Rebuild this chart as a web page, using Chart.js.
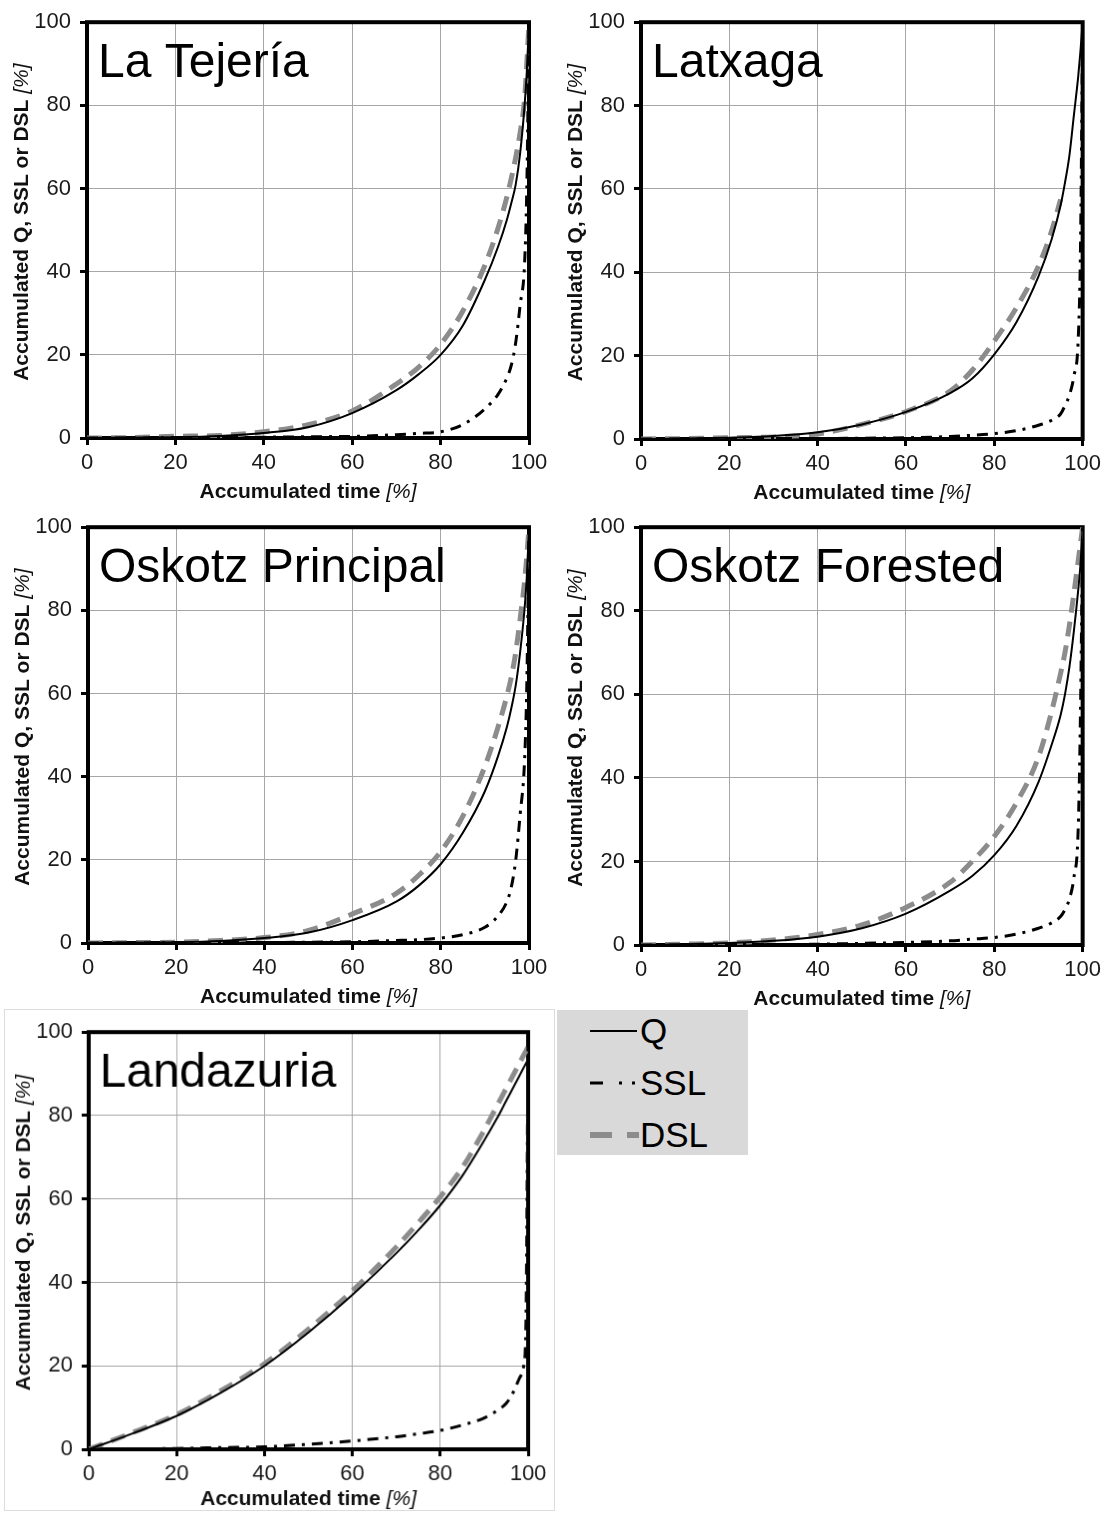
<!DOCTYPE html>
<html>
<head>
<meta charset="utf-8">
<title>Accumulated Q, SSL and DSL curves</title>
<script src="https://cdn.jsdelivr.net/npm/chart.js@4.4.1/dist/chart.umd.min.js"></script>
<style>
  body { margin: 0; background: #fff; width: 1106px; height: 1515px; position: relative; overflow: hidden;
         font-family: "Liberation Sans", Arial, sans-serif; }
  canvas { position: absolute; }
  #c5 { border: 1px solid #dcdcdc; }
  #legend { position: absolute; left: 557px; top: 1010px; width: 191px; height: 145px; background: #d9d9d9; }
  .lg-row { position: absolute; left: 0; height: 40px; width: 191px; }
  .lg-row svg { position: absolute; left: 30px; top: 0; }
  .lg-row span { position: absolute; left: 83px; top: 0; font-size: 35px; line-height: 40px; color: #000; }
</style>
</head>
<body>
<canvas id="c1" width="556" height="505" style="left:0;top:0"></canvas>
<canvas id="c2" width="550" height="505" style="left:556px;top:0"></canvas>
<canvas id="c3" width="556" height="505" style="left:0;top:505px"></canvas>
<canvas id="c4" width="550" height="505" style="left:556px;top:505px"></canvas>
<canvas id="c5" width="551" height="502" style="left:4px;top:1009px"></canvas>

<div id="legend">
  <div class="lg-row" style="top:1px">
    <svg width="52" height="40"><line x1="3" y1="20" x2="50" y2="20" stroke="#000" stroke-width="2"/></svg>
    <span>Q</span>
  </div>
  <div class="lg-row" style="top:53px">
    <svg width="52" height="40"><line x1="3" y1="20" x2="50" y2="20" stroke="#000" stroke-width="3" stroke-dasharray="13 16 3 10 3 20"/></svg>
    <span>SSL</span>
  </div>
  <div class="lg-row" style="top:105px">
    <svg width="52" height="40"><line x1="3" y1="20" x2="52" y2="20" stroke="#8c8c8c" stroke-width="6" stroke-dasharray="22 15"/></svg>
    <span>DSL</span>
  </div>
</div>

<script>
// ---- data ----
var timeSteps = [0, 10, 20, 30, 40, 50, 60, 70, 75, 80, 85, 90, 93, 95, 96, 97, 98, 99, 99.5, 100];
var axisTicks = [0, 20, 40, 60, 80, 100];

var tejeriaQ   = [0, 0.1, 0.2, 0.5, 1.2, 2.6, 6, 11.5, 15.3, 20, 27, 38, 46, 52.5, 56.5, 61, 68.5, 80, 88, 100];
var tejeriaSSL = [0, 0, 0.1, 0.1, 0.2, 0.3, 0.4, 0.8, 1.1, 1.5, 3.2, 7, 10.5, 14.5, 17.5, 23, 32, 42, 60, 100];
var tejeriaDSL = [0, 0.1, 0.4, 0.6, 1.5, 3.2, 6.5, 13, 17, 22.5, 30.5, 41.5, 50.5, 58, 62.5, 67.5, 73.5, 81.5, 90, 100];

var latxagaQ   = [0, 0.1, 0.3, 0.7, 1.6, 3.5, 6.5, 11, 14.5, 20.3, 28, 39, 48, 56, 61.5, 68, 77.5, 87, 93, 100];
var latxagaSSL = [0, 0, 0.1, 0.1, 0.1, 0.2, 0.3, 0.6, 0.9, 1.3, 2, 3.3, 4.5, 6, 8, 10.5, 15, 24, 45, 100];
var latxagaDSL = [0, 0.1, 0.3, 0.5, 1.2, 3.5, 6.6, 11.5, 16.5, 23.5, 31.5, 41.5, 50, 57.5, null, null, null, null, null, null];

var principalQ   = [0, 0.1, 0.2, 0.5, 1.2, 2.5, 5.5, 10, 13.8, 19, 26.5, 36.5, 45, 52, 56.5, 62, 70, 80.5, 88, 100];
var principalSSL = [0, 0, 0.1, 0.1, 0.1, 0.2, 0.3, 0.6, 0.8, 1.2, 2, 3.8, 6.5, 10, 13.5, 20, 31, 44, 62, 100];
var principalDSL = [0, 0.1, 0.2, 0.6, 1.3, 3, 7, 12, 16.3, 22, 30.5, 42.5, 52, 59.5, 64, 70, 78, 87, 93, 100];

var forestedQ   = [0, 0.2, 0.5, 1, 2, 4, 7.5, 13, 16.5, 21.5, 28.5, 39, 48, 55, 60, 66.5, 75, 85, 91, 100];
var forestedSSL = [0, 0, 0.1, 0.1, 0.2, 0.4, 0.6, 1, 1.4, 1.8, 2.6, 4, 5.3, 6.8, 8.5, 11, 16, 28, 55, 100];
var forestedDSL = [0, 0.2, 0.5, 1.2, 2.5, 4.8, 9, 15, 20, 26, 34, 45, 56, 65, 70, 76.5, 84, 92, 96, 100];

var landazuriaQ   = [0, 3.8, 8, 13.5, 20, 28, 37, 47, 52.5, 58.5, 65.5, 74, 79.5, 83.5, 85.5, 87.5, 89.5, 91.5, 92.5, 93.5];
var landazuriaSSL = [0, 0.1, 0.2, 0.4, 0.6, 1.2, 2, 3, 3.7, 4.5, 5.8, 7.5, 9.3, 11, 12.5, 14.5, 17, 20, 30, 100];
var landazuriaDSL = [0, 4, 8.3, 14, 20.5, 28.8, 38, 48.5, 54.3, 60.5, 67.5, 76.5, 82.5, 86.5, 88.5, 90.5, 92.5, 94.5, 95.5, 96.5];

var FONT = '"Liberation Sans", Arial, sans-serif';

// frame around the plot area + panel name and axis titles
var panelText = {
  id: "panelText",
  beforeDatasetsDraw: function (chart) {
    var a = chart.chartArea, ctx = chart.ctx;
    ctx.save();
    ctx.strokeStyle = "#000";
    ctx.lineWidth = 4;
    ctx.strokeRect(a.left, a.top, a.right - a.left, a.bottom - a.top);
    ctx.restore();
  },
  afterDraw: function (chart, args, opts) {
    var a = chart.chartArea, ctx = chart.ctx;
    ctx.save();
    ctx.fillStyle = "#000";
    ctx.textBaseline = "alphabetic";
    ctx.textAlign = "left";
    ctx.font = "48px " + FONT;
    ctx.fillText(opts.title, a.left + 11, a.top + 55);

    // mixed bold / italic axis titles
    function mixed(boldText, italicText, cx, cy, rotate) {
      ctx.save();
      ctx.translate(cx, cy);
      if (rotate) ctx.rotate(-Math.PI / 2);
      ctx.fillStyle = "#111";
      ctx.font = "bold 21px " + FONT;
      var w1 = ctx.measureText(boldText).width;
      ctx.font = "italic 21px " + FONT;
      var w2 = ctx.measureText(italicText).width;
      var x0 = -(w1 + w2) / 2;
      ctx.font = "bold 21px " + FONT;
      ctx.fillText(boldText, x0, 0);
      ctx.font = "italic 21px " + FONT;
      ctx.fillText(italicText, x0 + w1, 0);
      ctx.restore();
    }
    mixed("Accumulated time", " [%]", (a.left + a.right) / 2, a.bottom + opts.xTitleOffset, false);
    mixed("Accumulated Q, SSL or DSL", " [%]", a.left - 59, (a.top + a.bottom) / 2 - 8, true);
    ctx.restore();
  }
};

function points(values) {
  return timeSteps.map(function (t, i) { return { x: t, y: values[i] }; });
}

function buildPanel(id, title, q, ssl, dsl, area, xTitleOffset) {
  var canvas = document.getElementById(id);
  var tickStyle = { size: 22, family: FONT };
  return new Chart(canvas, {
    type: "line",
    data: {
      datasets: [
        { label: "Q", data: points(q), borderColor: "#000", borderWidth: 2 },
        { label: "SSL", data: points(ssl), borderColor: "#000", borderWidth: 3, borderDash: [11, 7, 3, 7] },
        { label: "DSL", data: points(dsl), borderColor: "#8c8c8c", borderWidth: 5, borderDash: [15, 9] }
      ]
    },
    options: {
      responsive: false,
      animation: false,
      layout: { padding: { left: 0, top: area.top, right: canvas.width - area.right, bottom: 0 } },
      elements: {
        point: { radius: 0 },
        line: { cubicInterpolationMode: "monotone", fill: false, spanGaps: false }
      },
      plugins: {
        legend: { display: false },
        tooltip: { enabled: false },
        panelText: { title: title, xTitleOffset: xTitleOffset }
      },
      scales: {
        x: {
          type: "linear", min: 0, max: 100,
          afterBuildTicks: function (s) { s.ticks = axisTicks.map(function (v) { return { value: v }; }); },
          afterFit: function (s) { s.height = canvas.height - area.bottom; },
          grid: { color: "#a6a6a6", lineWidth: 1, tickColor: "#000", tickWidth: 3, tickLength: 7 },
          border: { display: false },
          ticks: { color: "#1a1a1a", font: tickStyle, padding: 5, maxRotation: 0 }
        },
        y: {
          type: "linear", min: 0, max: 100,
          afterBuildTicks: function (s) { s.ticks = axisTicks.map(function (v) { return { value: v }; }); },
          afterFit: function (s) { s.width = area.left; },
          grid: { color: "#a6a6a6", lineWidth: 1, tickColor: "#000", tickWidth: 3, tickLength: 7 },
          border: { display: false },
          ticks: { color: "#1a1a1a", font: tickStyle, padding: 9 }
        }
      }
    },
    plugins: [panelText]
  });
}

buildPanel("c1", "La Tejería", tejeriaQ, tejeriaSSL, tejeriaDSL, { left: 87, top: 19, right: 529, bottom: 438 }, 60);
buildPanel("c2", "Latxaga", latxagaQ, latxagaSSL, latxagaDSL, { left: 85, top: 20, right: 527, bottom: 439 }, 60);
buildPanel("c3", "Oskotz Principal", principalQ, principalSSL, principalDSL, { left: 88, top: 19, right: 529, bottom: 438 }, 60);
buildPanel("c4", "Oskotz Forested", forestedQ, forestedSSL, forestedDSL, { left: 85, top: 20, right: 527, bottom: 440 }, 60);
buildPanel("c5", "Landazuria", landazuriaQ, landazuriaSSL, landazuriaDSL, { left: 84, top: 19, right: 525, bottom: 441 }, 56);
</script>
</body>
</html>
